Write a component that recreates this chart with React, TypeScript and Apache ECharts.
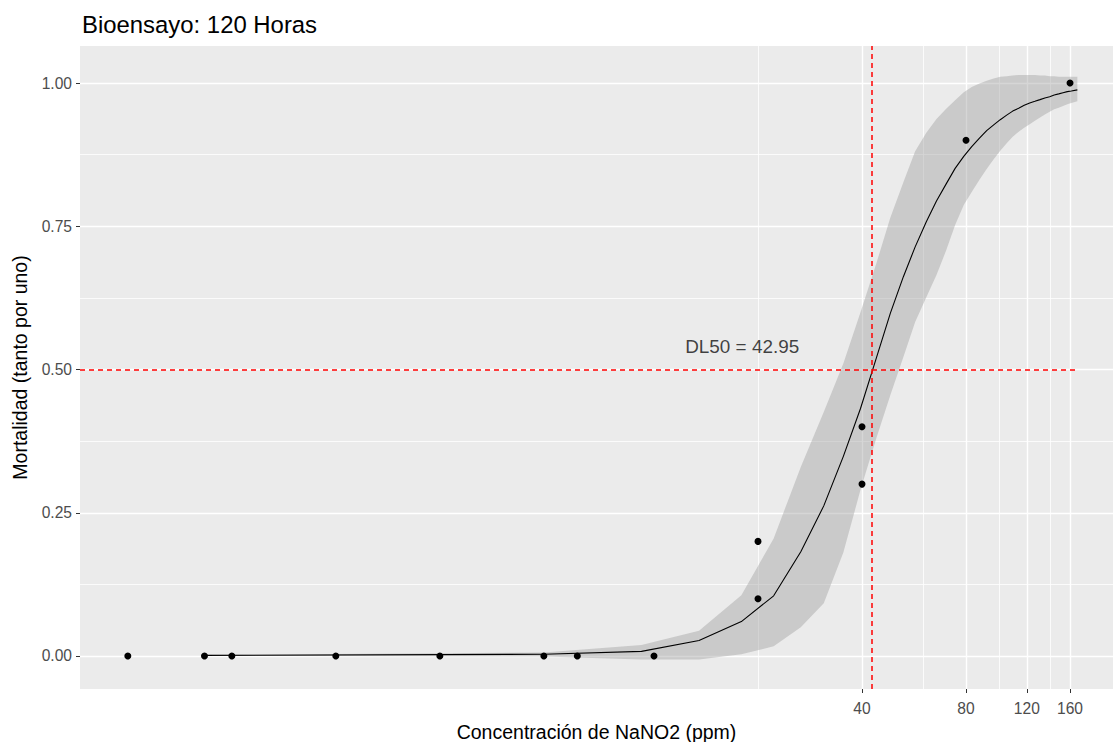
import React, { useEffect, useRef } from "react";
import * as echarts from "echarts";

// ---- Observed data (dose in ppm, mortality as proportion) ----
const obsDose = [0.3, 0.5, 0.6, 1.2, 2.4, 4.8, 6, 10, 20, 20, 40, 40, 80, 160];
const obsMort = [0, 0, 0, 0, 0, 0, 0, 0, 0.1, 0.2, 0.3, 0.4, 0.9, 1.0];

// ---- Fitted curve and its confidence band ----
const fitDose = [
  0.5, 4.8, 9.2, 13.5, 17.9, 22.2, 26.6, 31, 35.3, 39.6, 44, 48.3, 52.7, 57, 61.4,
  65.7, 70.1, 74.4, 78.8, 83.1, 87.5, 91.8, 96.2, 100.5, 104.9, 109.2, 113.6, 117.9,
  122.3, 126.6, 131, 135.3, 139.7, 144, 148.4, 152.7, 157.1, 161.4, 168,
];
const fitMort = [
  0.001, 0.003, 0.008, 0.027, 0.06, 0.105, 0.182, 0.262, 0.348, 0.432, 0.52, 0.598, 0.662,
  0.714, 0.758, 0.794, 0.824, 0.851, 0.872, 0.889, 0.904, 0.917, 0.927, 0.936, 0.944, 0.951,
  0.956, 0.961, 0.965, 0.968, 0.971, 0.974, 0.976, 0.979, 0.981, 0.983, 0.985, 0.986, 0.988,
];
const fitLo = [
  0.0, -0.001, -0.006, -0.006, 0.003, 0.017, 0.05, 0.092, 0.18, 0.29, 0.38, 0.455,
  0.522, 0.583, 0.626, 0.665, 0.708, 0.752, 0.787, 0.81, 0.831, 0.85, 0.867, 0.882, 0.895,
  0.906, 0.915, 0.922, 0.928, 0.934, 0.94, 0.945, 0.95, 0.954, 0.957, 0.96, 0.963, 0.965,
  0.968,
];
const fitHi = [
  0.002, 0.006, 0.019, 0.044, 0.106, 0.205, 0.33, 0.426, 0.51, 0.6, 0.685, 0.765, 0.827,
  0.881, 0.913, 0.937, 0.955, 0.97, 0.984, 0.993, 0.999, 1.004, 1.008, 1.011, 1.012, 1.013,
  1.014, 1.014, 1.014, 1.014, 1.013, 1.013, 1.012, 1.012, 1.011, 1.011, 1.011, 1.011, 1.011,
];

// ---- Axes ----
const xMajorTicks = [40, 80, 120, 160];
const xMinorTicks = [20, 60, 100, 140];
const yMajorTicks = [0, 0.25, 0.5, 0.75, 1];
const yMinorTicks = [0.125, 0.375, 0.625, 0.875];

// ---- Annotation ----
const dl50 = 42.95;
const dl50Level = 0.5;
const dl50LabelAt = [18, 0.54];

const titleText = "Bioensayo: 120 Horas";
const xName = "Concentración de NaNO2 (ppm)";
const yName = "Mortalidad (tanto por uno)";

const lg = (v: number) => Math.log10(v);
const X_MIN = -0.6613;
const X_MAX = 2.3285;
const Y_MIN = -0.0576;
const Y_MAX = 1.0646;
const FONT = "'Liberation Sans', Arial, Helvetica, sans-serif";

export default function App() {
  const ref = useRef<HTMLDivElement>(null);

  useEffect(() => {
    if (!ref.current) return;
    const chart = echarts.init(ref.current, undefined, { renderer: "svg" });

    const option: any = {
      animation: false,
      backgroundColor: "#FFFFFF",
      textStyle: { fontFamily: FONT },
      title: {
        text: titleText,
        left: 77,
        top: 7,
        textStyle: { fontSize: 23.9, fontWeight: "normal", color: "#000000", fontFamily: FONT },
      },
      grid: {
        left: 80,
        right: 0,
        top: 46,
        bottom: 53,
        show: true,
        backgroundColor: "#EBEBEB",
        borderWidth: 0,
        containLabel: false,
        outerBoundsMode: "none",
      },
      xAxis: [
        {
          type: "value",
          min: X_MIN,
          max: X_MAX,
          axisLine: { show: false, onZero: false },
          axisTick: {
            show: true,
            length: 4,
            lineStyle: { color: "#333333", width: 1 },
            customValues: xMajorTicks.map(lg),
          },
          axisLabel: {
            customValues: xMajorTicks.map(lg),
            formatter: (v: number) => String(Math.round(Math.pow(10, v))),
            color: "#4D4D4D",
            fontSize: 15.6,
            margin: 11,
            fontFamily: FONT,
          },
          splitLine: { show: true, lineStyle: { color: "#FFFFFF", width: 1.4 } },
          name: xName,
          nameLocation: "middle",
          nameGap: 33,
          nameTextStyle: { fontSize: 19.5, color: "#000000", fontFamily: FONT },
        },
        {
          type: "value",
          min: X_MIN,
          max: X_MAX,
          position: "bottom",
          axisLine: { show: false, onZero: false },
          axisLabel: { show: false },
          axisTick: { show: false, customValues: xMinorTicks.map(lg) },
          splitLine: { show: true, lineStyle: { color: "#FFFFFF", width: 0.8 } },
        },
      ],
      yAxis: [
        {
          type: "value",
          min: Y_MIN,
          max: Y_MAX,
          axisLine: { show: false, onZero: false },
          axisTick: {
            show: true,
            length: 4,
            lineStyle: { color: "#333333", width: 1 },
            customValues: yMajorTicks,
          },
          axisLabel: {
            customValues: yMajorTicks,
            formatter: (v: number) => v.toFixed(2),
            color: "#4D4D4D",
            fontSize: 15.6,
            margin: 8,
            fontFamily: FONT,
          },
          splitLine: { show: true, lineStyle: { color: "#FFFFFF", width: 1.4 } },
          name: yName,
          nameLocation: "middle",
          nameGap: 50,
          nameTextStyle: { fontSize: 19.5, color: "#000000", fontFamily: FONT },
        },
        {
          type: "value",
          min: Y_MIN,
          max: Y_MAX,
          position: "left",
          axisLine: { show: false, onZero: false },
          axisLabel: { show: false },
          axisTick: { show: false, customValues: yMinorTicks },
          splitLine: { show: true, lineStyle: { color: "#FFFFFF", width: 0.8 } },
        },
      ],
      series: [
        {
          name: "ciBand",
          type: "custom",
          xAxisIndex: 0,
          yAxisIndex: 0,
          silent: true,
          clip: true,
          data: fitDose.map((d, i) => [lg(d), fitLo[i], fitHi[i]]),
          encode: { x: 0, y: [1, 2] },
          renderItem: (params: any, api: any) => {
            if (params.dataIndex !== 0) return null;
            const pts: number[][] = [];
            for (let i = 0; i < fitDose.length; i++) {
              pts.push(api.coord([lg(fitDose[i]), fitHi[i]]));
            }
            for (let i = fitDose.length - 1; i >= 0; i--) {
              pts.push(api.coord([lg(fitDose[i]), fitLo[i]]));
            }
            return {
              type: "polygon",
              shape: { points: pts },
              style: { fill: "rgba(153,153,153,0.4)", stroke: "none" },
            };
          },
          z: 2,
        },
        {
          name: "fit",
          type: "line",
          xAxisIndex: 0,
          yAxisIndex: 0,
          symbol: "none",
          silent: true,
          lineStyle: { color: "#000000", width: 1.1 },
          data: fitDose.map((d, i) => [lg(d), fitMort[i]]),
          z: 3,
          markLine: {
            silent: true,
            symbol: ["none", "none"],
            label: { show: false },
            lineStyle: { color: "#FF0000", width: 1.5, type: [5, 4], opacity: 1 },
            data: [
              { xAxis: lg(dl50) },
              [
                { coord: [X_MIN, dl50Level] },
                { coord: [lg(fitDose[fitDose.length - 1]), dl50Level] },
              ],
            ],
          },
        },
        {
          name: "obs",
          type: "scatter",
          xAxisIndex: 0,
          yAxisIndex: 0,
          symbol: "circle",
          symbolSize: 7,
          itemStyle: { color: "#000000", opacity: 1 },
          data: obsDose.map((d, i) => [lg(d), obsMort[i]]),
          z: 4,
        },
        {
          name: "dl50Label",
          type: "scatter",
          xAxisIndex: 0,
          yAxisIndex: 0,
          symbol: "circle",
          symbolSize: 1,
          itemStyle: { color: "rgba(0,0,0,0)" },
          silent: true,
          label: {
            show: true,
            position: "inside",
            formatter: `DL50 = ${dl50}`,
            fontSize: 18.9,
            color: "#111111",
            fontFamily: FONT,
          },
          data: [[lg(dl50LabelAt[0]), dl50LabelAt[1]]],
          z: 5,
        },
      ],
    };

    chart.setOption(option);
    return () => chart.dispose();
  }, []);

  return (
    <div
      ref={ref}
      style={{ position: "absolute", left: 0, top: 0, width: 1113, height: 742 }}
    />
  );
}
